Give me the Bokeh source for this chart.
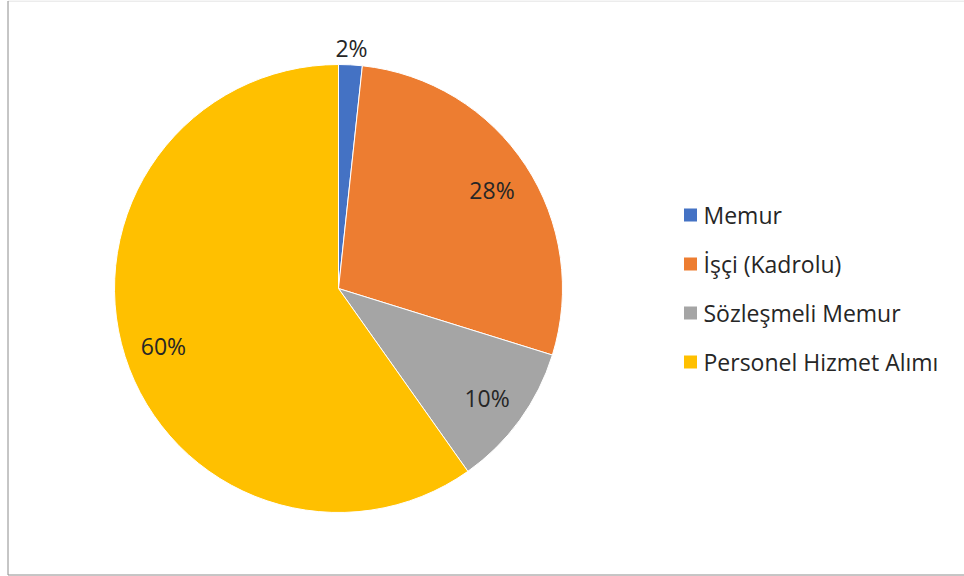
import numpy as np
from bokeh.plotting import figure
from bokeh.models import ColumnDataSource, Range1d
from bokeh.embed import file_html
from bokeh.resources import INLINE
from bokeh.core.properties import value

# ---- data ----
categories = ["Memur", "İşçi (Kadrolu)", "Sözleşmeli Memur", "Personel Hizmet Alımı"]
values = [1.7, 28.1, 10.4, 59.8]
labels = ["2%", "28%", "10%", "60%"]
colors = ["#4472C4", "#ED7D31", "#A5A5A5", "#FFC000"]

# ---- layout ----
W, H = 964, 576
CX, CY, R = 338, 576 - 288, 224
FONT = "Open Sans"

vals = np.array(values, dtype=float)
frac = vals / vals.sum()
cum = np.concatenate([[0], np.cumsum(frac)])
start = np.pi / 2 - cum[:-1] * 2 * np.pi
end = np.pi / 2 - cum[1:] * 2 * np.pi
mid = (start + end) / 2

rf = np.where(frac < 0.05, 1.085, 0.82)
lx = CX + R * rf * np.cos(mid)
ly = CY + R * rf * np.sin(mid) - 2

src = ColumnDataSource(dict(cat=categories, start=start, end=end, color=colors,
                            lx=lx, ly=ly, label=labels))

p = figure(width=W, height=H, x_range=Range1d(0, W), y_range=Range1d(0, H),
           output_backend="svg", toolbar_location=None, min_border=0,
           background_fill_color="white", border_fill_color="white")
p.axis.visible = False
p.grid.visible = False
p.outline_line_color = None

# chart frame
p.segment(x0=[7.5], y0=[576 - 0.5], x1=[W + 5], y1=[576 - 0.5], line_color="#d9d9d9", line_width=1)
p.segment(x0=[7.5], y0=[576 - 0.5], x1=[7.5], y1=[576 - 574.5], line_color="#8c8c8c", line_width=1)
p.segment(x0=[7.5], y0=[576 - 574.5], x1=[W + 5], y1=[576 - 574.5], line_color="#8c8c8c", line_width=1)

p.wedge(x=CX, y=CY, radius=R, start_angle="start", end_angle="end", direction="clock",
        fill_color="color", line_color="white", line_width=1, source=src)

p.text(x="lx", y="ly", text="label", source=src, text_align="center", text_baseline="middle",
       text_font=value(FONT), text_font_size="23px", text_color="#262626")

# legend
leg_y = [576 - (214.5 + i * 49) for i in range(len(categories))]
leg_src = ColumnDataSource(dict(y=leg_y, cat=categories, color=colors))
p.scatter(x=690, y="y", marker="square", size=13, fill_color="color", line_color=None, source=leg_src)
p.text(x=703, y="y", text="cat", source=leg_src, text_align="left", text_baseline="middle",
       text_font=value(FONT), text_font_size="23px", text_color="#262626")

open("out.html", "w").write(file_html(p, INLINE))
